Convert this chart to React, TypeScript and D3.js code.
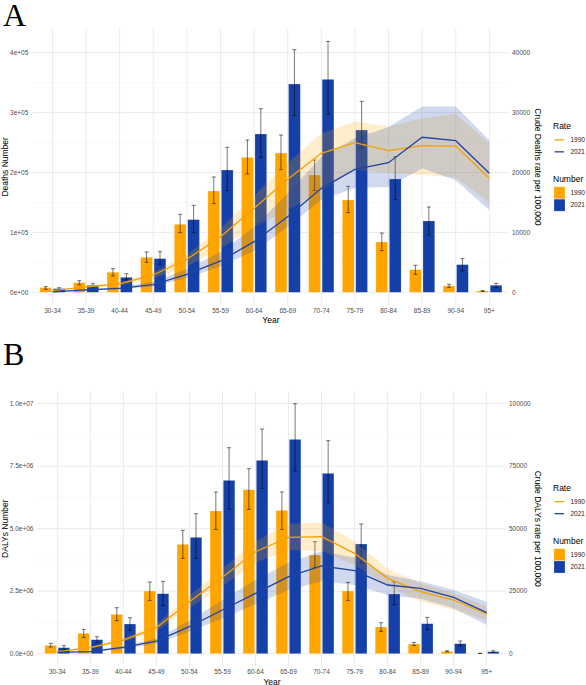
import React from "react";
import * as d3 from "d3";

const ageGroups = ["30-34", "35-39", "40-44", "45-49", "50-54", "55-59", "60-64", "65-69", "70-74", "75-79", "80-84", "85-89", "90-94", "95+"];

// Panel A: deaths (number) and crude deaths rate per 100,000
const deaths1990 = [7800, 16100, 33400, 58400, 113500, 169100, 225300, 232500, 195800, 154100, 84000, 37800, 10600, 2200];
const deaths1990Lo = [5000, 12500, 27300, 50000, 99600, 148000, 197500, 204700, 170200, 133000, 69500, 30000, 8300, 1500];
const deaths1990Hi = [9500, 19500, 39500, 67300, 130200, 192500, 254200, 262600, 220900, 176900, 99000, 45100, 13400, 3000];
const deaths2021 = [6100, 11700, 25000, 56200, 121300, 204200, 264300, 347700, 355500, 270900, 189200, 119100, 46200, 11700];
const deaths2021Lo = [4500, 8900, 20600, 46700, 99600, 169700, 225300, 294900, 297100, 240900, 154700, 95700, 35600, 7800];
const deaths2021Hi = [7700, 14500, 31000, 67900, 145200, 242000, 306500, 405000, 418900, 318800, 226400, 142400, 56200, 15000];

const deathRate1990 = [280, 890, 1390, 2890, 5510, 9280, 14020, 18860, 23200, 24970, 23640, 24480, 24420, 19030];
const deathRate1990Lo = [200, 700, 1100, 2300, 4300, 7300, 10900, 13700, 17000, 20500, 19900, 19600, 19200, 14900];
const deathRate1990Hi = [350, 1050, 1650, 3350, 6300, 10700, 16100, 21600, 26500, 28500, 27700, 29000, 29800, 24900];
const deathRate2021 = [55, 390, 670, 1280, 3000, 5230, 8450, 12620, 17360, 20530, 21640, 25880, 25310, 19870];
const deathRate2021Lo = [30, 300, 500, 950, 2400, 4300, 6900, 10900, 15400, 17400, 17600, 20700, 18700, 13700];
const deathRate2021Hi = [90, 520, 900, 1750, 3900, 6700, 10900, 16500, 22600, 25700, 27600, 31000, 31000, 25400];

// Panel B: DALYs (number) and crude DALYs rate per 100,000
const dalys1990 = [333e3, 813e3, 1573e3, 2507e3, 4373e3, 5707e3, 6560e3, 5733e3, 3947e3, 2507e3, 1067e3, 387e3, 93e3, 13e3];
const dalys1990Lo = [267e3, 653e3, 1320e3, 2133e3, 3813e3, 4973e3, 5773e3, 4973e3, 3440e3, 2133e3, 893e3, 330e3, 70e3, 8e3];
const dalys1990Hi = [413e3, 973e3, 1840e3, 2867e3, 4933e3, 6467e3, 7400e3, 6467e3, 4480e3, 2853e3, 1240e3, 453e3, 120e3, 20e3];
const dalys2021 = [240e3, 560e3, 1187e3, 2400e3, 4653e3, 6933e3, 7733e3, 8573e3, 7213e3, 4387e3, 2387e3, 1200e3, 400e3, 80e3];
const dalys2021Lo = [173e3, 440e3, 933e3, 1933e3, 3813e3, 5787e3, 6613e3, 7307e3, 6040e3, 3640e3, 1960e3, 973e3, 307e3, 53e3];
const dalys2021Hi = [320e3, 680e3, 1440e3, 2893e3, 5600e3, 8240e3, 8987e3, 10000e3, 8520e3, 5187e3, 2880e3, 1453e3, 507e3, 120e3];

const dalyRate1990 = [800, 2400, 5470, 10400, 20800, 30560, 40800, 46560, 46800, 40150, 30150, 24800, 21480, 15880];
const dalyRate1990Lo = [650, 2000, 4700, 9000, 18300, 27000, 36500, 41500, 41000, 35500, 27000, 21000, 17500, 13500];
const dalyRate1990Hi = [950, 2800, 6300, 11800, 23300, 34000, 45000, 52000, 52500, 45000, 34000, 28200, 24200, 18800];
const dalyRate2021 = [530, 800, 2530, 5070, 10800, 17480, 24160, 30800, 35080, 33200, 27480, 26150, 22550, 16400];
const dalyRate2021Lo = [400, 600, 2000, 4000, 8800, 14200, 19800, 25500, 29000, 27500, 23500, 22000, 18200, 11500];
const dalyRate2021Hi = [700, 1050, 3100, 6100, 13200, 21500, 29500, 36500, 41000, 38500, 31500, 29000, 25500, 20800];

const deathTicks = [0, 1e5, 2e5, 3e5, 4e5];
const deathTickLabels = ["0e+00", "1e+05", "2e+05", "3e+05", "4e+05"];
const deathRateTicks = [0, 10000, 20000, 30000, 40000];
const dalyTicks = [0, 2.5e6, 5e6, 7.5e6, 1e7];
const dalyTickLabels = ["0.0e+00", "2.5e+06", "5.0e+06", "7.5e+06", "1.0e+07"];
const dalyRateTicks = [0, 25000, 50000, 75000, 100000];

const years = ["1990", "2021"];
const colors = ["#FFA500", "#1440A8"];
const lineColors = ["#F5A000", "#2444A0"];
const FONT = "Liberation Sans, Arial, sans-serif";

interface PanelProps {
  letter: string;
  letterY: number;
  x0: number;
  x1: number;
  zeroY: number;
  topTickY: number;
  ticks: number[];
  tickLabels: string[];
  rateTicks: number[];
  rateFactor: number;
  num: number[][];
  numLo: number[][];
  numHi: number[][];
  rate: number[][];
  rateLo: number[][];
  rateHi: number[][];
  yTitle: string;
  rateTitle: string;
}

const Panel = (p: PanelProps) => {
  const maxV = d3.max(p.numHi.flat()) as number;
  const topV = p.ticks[p.ticks.length - 1];
  const pxPer = (p.zeroY - p.topTickY) / topV;
  const domain = [-0.05 * maxV, 1.05 * maxV];
  const y = d3
    .scaleLinear()
    .domain(domain)
    .range([p.zeroY - domain[0] * pxPer, p.zeroY - domain[1] * pxPer]);
  // secondary axis: same pixels, rate = number / factor
  const yRate = d3
    .scaleLinear()
    .domain(domain.map((d) => d / p.rateFactor))
    .range(y.range());
  const x = d3.scalePoint<string>().domain(ageGroups).range([p.x0, p.x1]).padding(0.6);
  const step = x.step();
  const barW = step * 0.35;
  const bottom = y.range()[0];
  const top = y.range()[1];
  const midY = (top + bottom) / 2;
  const midX = (p.x0 + p.x1) / 2;
  const minorTicks = p.ticks.slice(1).map((t, i) => (t + p.ticks[i]) / 2);
  minorTicks.push(topV + (topV - p.ticks[p.ticks.length - 2]) / 2);

  const area = d3
    .area<number>()
    .x((_, i) => x(ageGroups[i]) as number)
    .y0((d) => yRate(d));
  const line = d3
    .line<number>()
    .x((_, i) => x(ageGroups[i]) as number)
    .y((d) => yRate(d));

  return (
    <g>
      <text x={3} y={p.letterY} fontFamily="Liberation Serif, Times New Roman, serif" fontSize={32}>
        {p.letter}
      </text>
      {/* grid */}
      {minorTicks
        .filter((t) => y(t) > top)
        .map((t) => (
          <line key={"mn" + t} x1={p.x0} x2={p.x1} y1={y(t)} y2={y(t)} stroke="#F2F2F2" strokeWidth={0.5} />
        ))}
      {p.ticks.map((t) => (
        <line key={"mj" + t} x1={p.x0} x2={p.x1} y1={y(t)} y2={y(t)} stroke="#EBEBEB" strokeWidth={1} />
      ))}
      {ageGroups.map((g) => (
        <line key={"v" + g} x1={x(g)} x2={x(g)} y1={top} y2={bottom} stroke="#EBEBEB" strokeWidth={1} />
      ))}
      {/* bars */}
      {p.num.map((series, s) =>
        series.map((v, i) => {
          const cx = (x(ageGroups[i]) as number) + (s === 0 ? -0.2 : 0.2) * step;
          return (
            <rect
              key={`b${s}${i}`}
              x={cx - barW / 2}
              y={y(v)}
              width={barW}
              height={y(0) - y(v)}
              fill={colors[s]}
              stroke="#FFFFFF"
              strokeOpacity={0.35}
              strokeWidth={0.6}
            />
          );
        })
      )}
      {/* error bars */}
      {p.num.map((series, s) =>
        series.map((_, i) => {
          const cx = (x(ageGroups[i]) as number) + (s === 0 ? -0.2 : 0.2) * step;
          const lo = y(p.numLo[s][i]);
          const hi = y(p.numHi[s][i]);
          return (
            <g key={`e${s}${i}`} stroke="#000" strokeOpacity={0.6} strokeWidth={0.9}>
              <line x1={cx} x2={cx} y1={lo} y2={hi} />
              <line x1={cx - 2} x2={cx + 2} y1={lo} y2={lo} />
              <line x1={cx - 2} x2={cx + 2} y1={hi} y2={hi} />
            </g>
          );
        })
      )}
      {/* ribbons */}
      {p.rate.map((_, s) => (
        <path
          key={"r" + s}
          d={area.y1((_, i) => yRate(p.rateHi[s][i]))(p.rateLo[s]) || ""}
          fill={colors[s]}
          fillOpacity={0.2}
        />
      ))}
      {/* lines */}
      {p.rate.map((r, s) => (
        <path key={"l" + s} d={line(r) || ""} fill="none" stroke={lineColors[s]} strokeWidth={1.3} />
      ))}
      {/* left axis */}
      {p.ticks.map((t, i) => (
        <text key={"yl" + t} x={p.x0 - 4} y={y(t)} dy="0.35em" textAnchor="end" fontFamily={FONT} fontSize={6.5} fill="#4D4D4D">
          {p.tickLabels[i]}
        </text>
      ))}
      {/* right axis */}
      {p.rateTicks.map((t) => (
        <text key={"yr" + t} x={p.x1 + 2.5} y={yRate(t)} dy="0.35em" fontFamily={FONT} fontSize={6.5} fill="#4D4D4D">
          {t}
        </text>
      ))}
      {/* x axis */}
      {ageGroups.map((g) => (
        <text key={"xl" + g} x={x(g)} y={bottom + 6} dy="0.35em" textAnchor="middle" fontFamily={FONT} fontSize={6.5} fill="#4D4D4D">
          {g}
        </text>
      ))}
      <text x={midX} y={bottom + 15.5} dy="0.35em" textAnchor="middle" fontFamily={FONT} fontSize={8.5}>
        Year
      </text>
      <text transform={`translate(${5},${midY}) rotate(-90)`} dy="0.35em" textAnchor="middle" fontFamily={FONT} fontSize={8.5}>
        {p.yTitle}
      </text>
      <text transform={`translate(${538},${midY}) rotate(90)`} dy="0.35em" textAnchor="middle" fontFamily={FONT} fontSize={8.5}>
        {p.rateTitle}
      </text>
      {/* legend */}
      <g fontFamily={FONT}>
        <text x={553} y={midY - 41} dy="0.35em" fontSize={8.5}>
          Rate
        </text>
        {years.map((yr, s) => (
          <g key={"lr" + yr}>
            <line x1={554.5} x2={564} y1={midY - 27 + s * 12} y2={midY - 27 + s * 12} stroke={lineColors[s]} strokeWidth={1.3} />
            <text x={570.5} y={midY - 27 + s * 12} dy="0.35em" fontSize={6.5} fill="#222">
              {yr}
            </text>
          </g>
        ))}
        <text x={553} y={midY + 12.5} dy="0.35em" fontSize={8.5}>
          Number
        </text>
        {years.map((yr, s) => (
          <g key={"ln" + yr}>
            <rect x={554} y={midY + 20 + s * 12.3} width={11} height={12} fill={colors[s]} stroke="#FFFFFF" strokeOpacity={0.35} strokeWidth={0.6} />
            <text x={570.5} y={midY + 26 + s * 12.3} dy="0.35em" fontSize={6.5} fill="#222">
              {yr}
            </text>
          </g>
        ))}
      </g>
    </g>
  );
};

const App = () => {
  return (
    <div style={{ position: "absolute", left: 0, top: 0, background: "#fff" }}>
      <svg width={586} height={685} style={{ display: "block" }}>
        <rect width={586} height={685} fill="#fff" />
        <Panel
          letter="A"
          letterY={26}
          x0={32.3}
          x1={509.5}
          zeroY={292.3}
          topTickY={52.7}
          ticks={deathTicks}
          tickLabels={deathTickLabels}
          rateTicks={deathRateTicks}
          rateFactor={10}
          num={[deaths1990, deaths2021]}
          numLo={[deaths1990Lo, deaths2021Lo]}
          numHi={[deaths1990Hi, deaths2021Hi]}
          rate={[deathRate1990, deathRate2021]}
          rateLo={[deathRate1990Lo, deathRate2021Lo]}
          rateHi={[deathRate1990Hi, deathRate2021Hi]}
          yTitle="Deaths Number"
          rateTitle="Crude Deaths rate per 100,000"
        />
        <Panel
          letter="B"
          letterY={365}
          x0={37.5}
          x1={506.5}
          zeroY={653.7}
          topTickY={403.7}
          ticks={dalyTicks}
          tickLabels={dalyTickLabels}
          rateTicks={dalyRateTicks}
          rateFactor={100}
          num={[dalys1990, dalys2021]}
          numLo={[dalys1990Lo, dalys2021Lo]}
          numHi={[dalys1990Hi, dalys2021Hi]}
          rate={[dalyRate1990, dalyRate2021]}
          rateLo={[dalyRate1990Lo, dalyRate2021Lo]}
          rateHi={[dalyRate1990Hi, dalyRate2021Hi]}
          yTitle="DALYs Number"
          rateTitle="Crude DALYs rate per 100,000"
        />
      </svg>
    </div>
  );
};

export default App;
